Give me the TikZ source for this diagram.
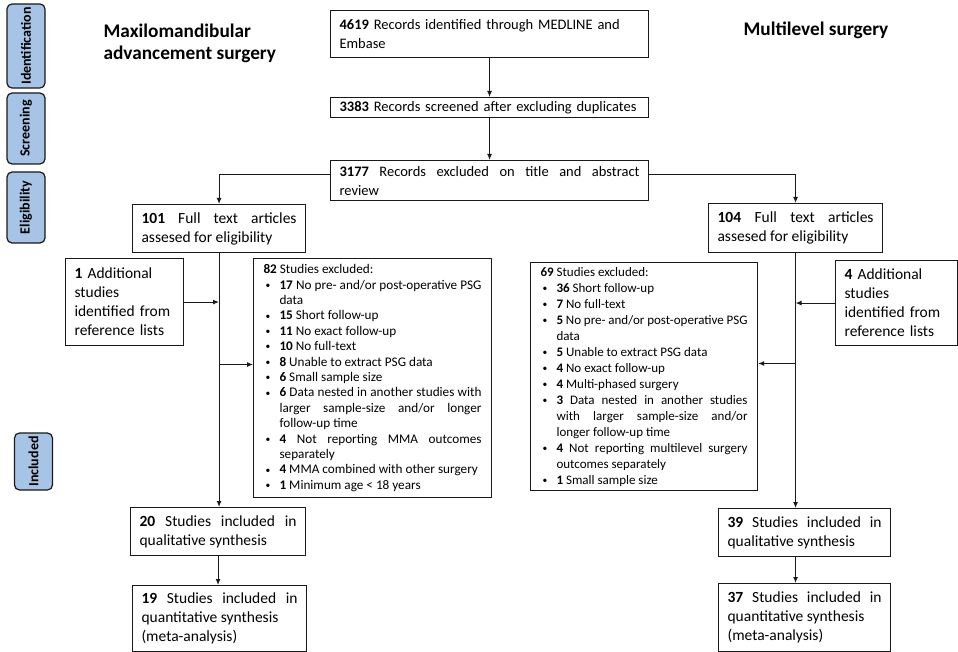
\documentclass[tikz,border=0pt]{standalone}
\usepackage{fontspec}
\setmainfont{Carlito}
\usetikzlibrary{arrows.meta}
\definecolor{stageblue}{RGB}{167,196,231}
\definecolor{inkgray}{RGB}{25,25,25}
\hyphenpenalty=10000
\exhyphenpenalty=10000
\newcommand{\itm}[1]{\par\hangindent=16pt\hangafter=1\noindent\makebox[16pt][l]{\hspace{2pt}\raisebox{0.8pt}{\fontsize{9.5}{9.5}\selectfont\textbullet}}#1}

\begin{document}
\begin{tikzpicture}[x=1pt,y=-1pt,
  >={Latex[length=6pt,width=5pt]},
  line width=1.1pt, draw=inkgray,
  box/.style={draw=inkgray, anchor=north west, inner xsep=9pt, inner ysep=2pt, font=\fontsize{15.5}{19}\selectfont},
  topbox/.style={box, font=\fontsize{14.5}{19}\selectfont},
  excl/.style={draw=inkgray, anchor=north west, inner xsep=10pt, inner ysep=3pt, align=justify},
  stage/.style={draw=inkgray, fill=stageblue, rounded corners=5pt, rotate=90, minimum height=38pt, line width=1.2pt, font=\bfseries\fontsize{14}{16}\selectfont},
  title/.style={anchor=north west, align=left, inner sep=0pt, font=\bfseries\fontsize{19.3}{22.6}\selectfont}]
\useasboundingbox (0,0) rectangle (958,652);

% stages
\node[stage, minimum width=82pt] (stageId) at (26,46) {Identification};
\node[stage, minimum width=71pt] (stageScr) at (26,128.5) {Screening};
\node[stage, minimum width=71pt] (stageElig) at (26,207.5) {Eligibility};
\node[stage, minimum width=57pt] (stageIncl) at (33.5,461.5) {Included};

\node[title] (titleL) at (103,23) {Maxilomandibular\\advancement surgery};
\node[title] (titleR) at (743,21) {Multilevel surgery};

% common part
\node[topbox, text width=300pt, minimum height=47pt, align=left] (recId) at (330,10) {\textbf{4619} Records identified through MEDLINE and\\Embase};
\node[topbox, text width=300pt, minimum height=20pt, align=left] (recScr) at (330,97) {\textbf{3383} Records screened after excluding duplicates};
\node[topbox, text width=300pt, minimum height=40pt, align=justify] (recExcl) at (330,160) {\textbf{3177} Records excluded on title and abstract\linebreak review};
\draw[->] (recId) -- (recScr);
\draw[->] (recScr) -- (recExcl);

% MMA
\node[box, text width=155pt, minimum height=48pt, align=justify] (fullL) at (132,204) {\textbf{101} Full text articles\linebreak assesed for eligibility};
\node[box, text width=100pt, minimum height=87pt, align=left] (addL) at (65,258) {\textbf{1} Additional\\studies\\identified from\\reference lists};
\node[excl, text width=218pt, minimum height=239pt, font=\fontsize{13.2}{15.4}\selectfont] (exclL) at (253,258) {%
\noindent\textbf{82} Studies excluded:
\itm{\textbf{17} No pre- and/or post-operative PSG\linebreak data}
\itm{\textbf{15} Short follow-up}
\itm{\textbf{11} No exact follow-up}
\itm{\textbf{10} No full-text}
\itm{\textbf{8} Unable to extract PSG data}
\itm{\textbf{6} Small sample size}
\itm{\textbf{6} Data nested in another studies with\linebreak larger sample-size and/or longer\linebreak follow-up time}
\itm{\textbf{4} Not reporting MMA outcomes\linebreak separately}
\itm{\textbf{4} MMA combined with other surgery}
\itm{\textbf{1} Minimum age < 18 years}};
\node[box, text width=157pt, minimum height=48pt, align=justify] (qualL) at (130,507) {\textbf{20} Studies included in\linebreak qualitative synthesis};
\node[box, text width=156pt, minimum height=66pt, align=justify] (quantL) at (132,585) {\textbf{19} Studies included in\linebreak quantitative synthesis\\(meta-analysis)};
\coordinate (jL) at (218.5,364.5);
\draw[->] ([yshift=6pt]recExcl.west) -| (fullL.north);
\draw[->] (fullL.south) -- (fullL.south |- qualL.north);
\draw[->] (addL.east) -- (addL.east -| fullL.south);
\draw[->] (jL) -- (jL -| exclL.west);
\draw[->] (qualL.south) -- (qualL.south |- quantL.north);

% multilevel
\node[box, text width=156pt, minimum height=49pt, align=justify] (fullR) at (708,203) {\textbf{104} Full text articles\linebreak assesed for eligibility};
\node[box, text width=104pt, minimum height=85pt, align=left] (addR) at (835,260) {\textbf{4} Additional\\studies\\identified from\\reference lists};
\node[excl, text width=207pt, minimum height=228pt, font=\fontsize{13}{16}\selectfont] (exclR) at (530,262) {%
\noindent\textbf{69} Studies excluded:
\itm{\textbf{36} Short follow-up}
\itm{\textbf{7} No full-text}
\itm{\textbf{5} No pre- and/or post-operative PSG\linebreak data}
\itm{\textbf{5} Unable to extract PSG data}
\itm{\textbf{4} No exact follow-up}
\itm{\textbf{4} Multi-phased surgery}
\itm{\textbf{3} Data nested in another studies\linebreak with larger sample-size and/or\linebreak longer follow-up time}
\itm{\textbf{4} Not reporting multilevel surgery\linebreak outcomes separately}
\itm{\textbf{1} Small sample size}};
\node[box, text width=154pt, minimum height=48pt, align=justify] (qualR) at (718,508) {\textbf{39} Studies included in\linebreak qualitative synthesis};
\node[box, text width=154pt, minimum height=68pt, align=justify] (quantR) at (718,583) {\textbf{37} Studies included in\linebreak quantitative synthesis\\(meta-analysis)};
\coordinate (jR) at (795,363.5);
\draw[->] ([yshift=6pt]recExcl.east) -| (fullR.north);
\draw[->] (fullR.south) -- (fullR.south |- qualR.north);
\draw[->] (addR.west) -- (addR.west -| fullR.south);
\draw[->] (jR) -- (jR -| exclR.east);
\draw[->] (fullR.south |- qualR.south) -- (fullR.south |- quantR.north);
\end{tikzpicture}
\end{document}
